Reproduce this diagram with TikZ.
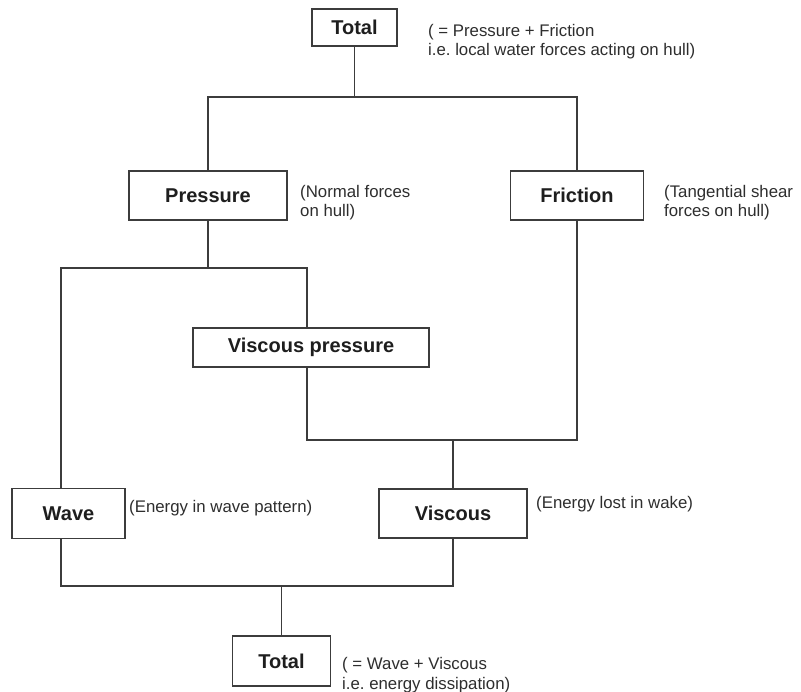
\documentclass[tikz,border=0pt]{standalone}
\usepackage{fontspec}
\setmainfont{Liberation Sans}
\frenchspacing
\begin{document}
\begin{tikzpicture}[x=1pt,y=-1pt,
  box/.style={draw=linec,line width=1.3pt,fill=white,inner sep=0pt,
    font=\fontsize{20}{24}\selectfont\bfseries,text=txtb},
  note/.style={anchor=base west,inner sep=0pt,align=left,
    font=\fontsize{16.8}{19.5}\selectfont,text=txtn},
  conn/.style={draw=linec,line width=1.3pt}]
\definecolor{linec}{HTML}{3C3C3C}
\definecolor{txtb}{HTML}{1E1E1E}
\definecolor{txtn}{HTML}{2E2E2E}
\useasboundingbox[fill=white] (0,0) rectangle (801,692);

% boxes
\node[box,minimum width=85pt,minimum height=37pt] (t1) at (354.5,27.5) {Total};
\node[box,minimum width=158pt,minimum height=49pt] (pres) at (208,195.5) {Pressure};
\node[box,minimum width=133pt,minimum height=49pt] (fric) at (577,195.5) {Friction};
\node[box,minimum width=236pt,minimum height=39pt] (vp) at (311,347.5) {Viscous pressure};
\node[box,minimum width=113pt,minimum height=50pt] (wave) at (68.5,513.5) {Wave};
\node[box,minimum width=148pt,minimum height=49pt] (visc) at (453,513.5) {Viscous};
\node[box,minimum width=98pt,minimum height=50pt] (t2) at (281.5,661) {Total};

% notes (anchor on the baseline of the last line)
\node[note] (n1) at (428,56) {( = Pressure + Friction\\i.e. local water forces acting on hull)};
\node[note] (n2) at (300,216.7) {(Normal forces\\on hull)};
\node[note] (n3) at (664,216.7) {(Tangential shear\\forces on hull)};
\node[note] (n4) at (129,512) {(Energy in wave pattern)};
\node[note] (n5) at (536,508) {(Energy lost in wake)};
\node[note] (n6) at (342,689) {( = Wave + Viscous\\i.e. energy dissipation)};

% junctions
\coordinate (jtop) at (354.5,97);
\coordinate (jp) at (0,268);
\coordinate (wl) at (61,268);
\coordinate (vx) at (307,268);
\coordinate (jm) at (0,440);
\coordinate (jb) at (0,586);

% connectors
\draw[conn] (t1.south) -- (jtop);
\draw[conn] (pres.north) -- (pres.north |- jtop) -- (fric.north |- jtop) -- (fric.north);
\draw[conn] (pres.south) -- (pres.south |- jp);
\draw[conn] (wl |- wave.north) -- (wl) -- (vx) -- (vx |- vp.north);
\draw[conn] (vx |- vp.south) -- (vx |- jm) -- (fric.south |- jm) -- (fric.south);
\draw[conn] (visc.north) -- (visc.north |- jm);
\draw[conn] (wl |- wave.south) -- (wl |- jb) -- (visc.south |- jb) -- (visc.south);
\draw[conn] (t2.north) -- (t2.north |- jb);
\end{tikzpicture}
\end{document}
